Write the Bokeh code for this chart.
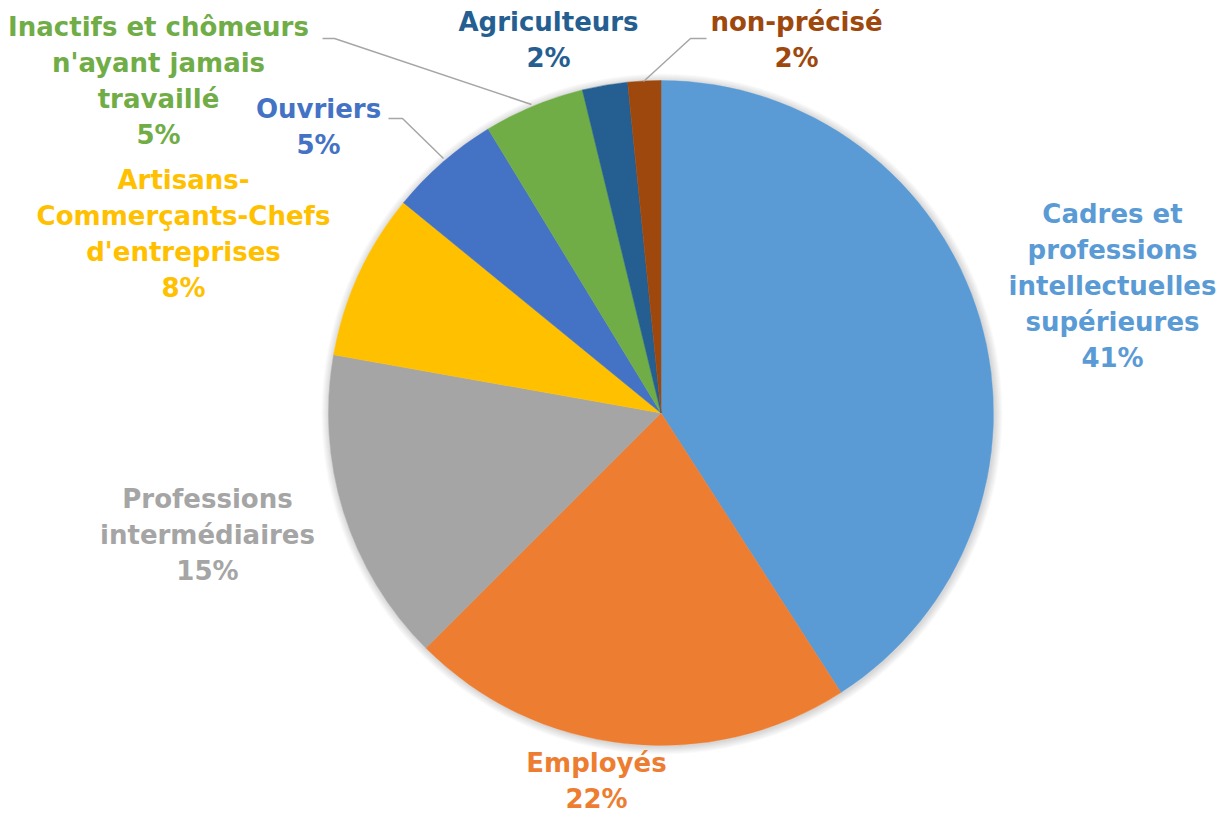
import math
from bokeh.plotting import figure
from bokeh.models import Range1d, ColumnDataSource
from bokeh.core.properties import value
from bokeh.embed import file_html
from bokeh.resources import INLINE

# ---- data ----
categories = [
    "Cadres et\nprofessions\nintellectuelles\nsupérieures",
    "Employés",
    "Professions\nintermédiaires",
    "Artisans-\nCommerçants-Chefs\nd'entreprises",
    "Ouvriers",
    "Inactifs et chômeurs\nn'ayant jamais\ntravaillé",
    "Agriculteurs",
    "non-précisé",
]
shares = [40.9, 21.6, 15.3, 8.1, 5.4, 4.9, 2.2, 1.6]
colors = ["#5B9BD5", "#ED7D31", "#A5A5A5", "#FFC000", "#4472C4", "#70AD47", "#255E91", "#9E480E"]

# ---- layout (screen-pixel coordinates, y measured from top) ----
W, H = 1224, 816
cx, cy_s, R = 660.5, 412.5, 332.5
label_pos = [(1112, 285.5), (596, 780), (207, 534), (183, 233), (318, 126.5),
             (158, 80.5), (548, 39), (796, 39)]
leaders = {
    4: ([388, 402, 443], [118, 118, 158]),
    5: ([322, 334, 531], [38, 38, 104]),
    7: ([706, 690, 643], [38, 38, 81]),
}

def fy(y):
    return H - y

p = figure(width=W, height=H, output_backend="svg", toolbar_location=None,
           x_range=Range1d(0, W), y_range=Range1d(0, H),
           min_border=0, outline_line_color=None)
p.axis.visible = False
p.grid.visible = False
p.background_fill_color = "white"
p.border_fill_color = "white"

# soft shadow
for k in range(1, 9):
    p.circle(x=[cx + 1], y=[fy(cy_s) - 1], radius=R + k, fill_color="#000000",
             fill_alpha=0.018, line_color=None)
p.circle(x=[cx], y=[fy(cy_s)], radius=R, fill_color="white", line_color=None)

total = sum(shares)
starts, ends = [], []
cum = 0.0
for v in shares:
    starts.append(math.pi / 2 - 2 * math.pi * cum / total)
    cum += v
    ends.append(math.pi / 2 - 2 * math.pi * cum / total)

src = ColumnDataSource(dict(start=starts, end=ends, color=colors))
p.wedge(x=cx, y=fy(cy_s), radius=R, start_angle="start", end_angle="end",
        direction="clock", fill_color="color", line_color="color", line_width=0.5,
        source=src)

for i, (xs, ys) in leaders.items():
    p.line(x=xs, y=[fy(y) for y in ys], line_color="#A6A6A6", line_width=1.5)

texts = [f"{c}\n{round(v / total * 100)}%" for c, v in zip(categories, shares)]
p.text(x=[lp[0] for lp in label_pos], y=[fy(lp[1]) for lp in label_pos], text=texts,
       text_color=colors, text_font=value("DejaVu Sans"), text_font_style="bold",
       text_font_size="26px", text_align="center", text_baseline="middle",
       text_line_height=1.2)

open("out.html", "w").write(file_html(p, INLINE))
